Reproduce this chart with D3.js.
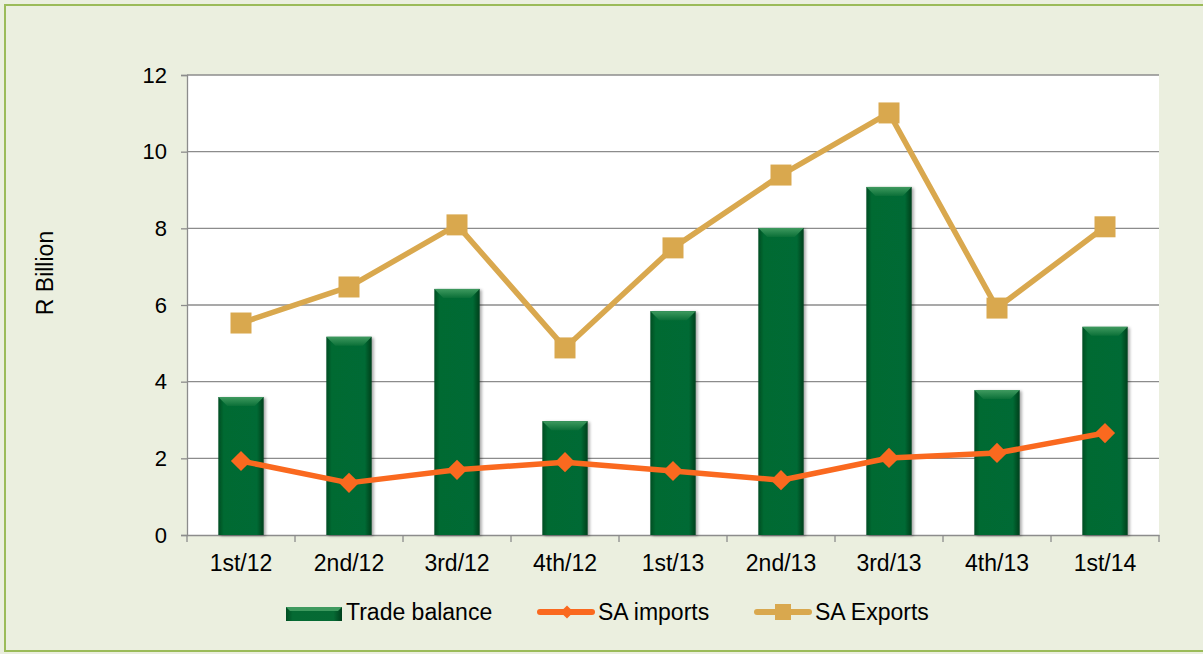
<!DOCTYPE html>
<html>
<head>
<meta charset="utf-8">
<script src="https://cdn.jsdelivr.net/npm/d3@7"></script>
<style>
  html, body { margin: 0; padding: 0; background: #ebefdf; }
  svg { display: block; font-family: "Liberation Sans", Arial, sans-serif; }
</style>
</head>
<body>
<svg id="chart" width="1203" height="654"></svg>
<script>
const quarters = ['1st/12', '2nd/12', '3rd/12', '4th/12', '1st/13', '2nd/13', '3rd/13', '4th/13', '1st/14'];
const tradeBalance = [3.6, 5.17, 6.42, 2.97, 5.84, 8.01, 9.08, 3.78, 5.43];
const saImports = [1.93, 1.36, 1.70, 1.90, 1.67, 1.43, 2.01, 2.14, 2.66];
const saExports = [5.53, 6.47, 8.09, 4.88, 7.49, 9.39, 11.01, 5.92, 8.04];
const yTicks = [0, 2, 4, 6, 8, 10, 12];

const svg = d3.select('#chart');
const defs = svg.append('defs');
const fontSize = 23;

// frame
svg.append('rect')
  .attr('x', 5).attr('y', 5)
  .attr('width', 1220).attr('height', 646)
  .attr('fill', '#ebefdf')
  .attr('stroke', '#9bbb59')
  .attr('stroke-width', 2);

const plot = {left: 187, right: 1159, top: 75, bottom: 535};

const x = d3.scaleBand()
  .domain(quarters)
  .range([plot.left, plot.right])
  .paddingInner(0.58)
  .paddingOuter(0.29);

const xPoint = d3.scalePoint().domain(quarters).range([plot.left, plot.right]).padding(0.5);

const y = d3.scaleLinear().domain([0, 12]).range([plot.bottom, plot.top]);

// bar gradients
const grad = defs.append('linearGradient').attr('id', 'barGrad')
  .attr('x1', '0%').attr('x2', '100%').attr('y1', '0%').attr('y2', '0%');
grad.append('stop').attr('offset', '0%').attr('stop-color', '#004d22');
grad.append('stop').attr('offset', '12%').attr('stop-color', '#056a33');
grad.append('stop').attr('offset', '85%').attr('stop-color', '#066a34');
grad.append('stop').attr('offset', '100%').attr('stop-color', '#003f1c');

const topGrad = defs.append('linearGradient').attr('id', 'topGrad')
  .attr('x1', '0%').attr('x2', '0%').attr('y1', '0%').attr('y2', '100%');
topGrad.append('stop').attr('offset', '0%').attr('stop-color', '#3f9a5f');
topGrad.append('stop').attr('offset', '100%').attr('stop-color', '#0b7038');

const shadow = defs.append('filter').attr('id', 'shadow')
  .attr('x', '-20%').attr('y', '-10%').attr('width', '150%').attr('height', '130%');
shadow.append('feDropShadow').attr('dx', 2).attr('dy', 1).attr('stdDeviation', 1.5)
  .attr('flood-color', '#000').attr('flood-opacity', 0.35);

// plot background
svg.append('rect')
  .attr('x', plot.left).attr('y', plot.top)
  .attr('width', plot.right - plot.left).attr('height', plot.bottom - plot.top)
  .attr('fill', '#ffffff');

// gridlines
svg.append('g')
  .selectAll('line')
  .data(yTicks.filter(t => t > 0))
  .enter()
  .append('line')
  .attr('x1', plot.left).attr('x2', plot.right)
  .attr('y1', d => y(d)).attr('y2', d => y(d))
  .attr('stroke', '#8c8c8c').attr('stroke-width', 1.3);

// y axis
const yAxis = svg.append('g')
  .attr('transform', `translate(${plot.left},0)`)
  .call(d3.axisLeft(y).tickValues(yTicks).tickSize(6).tickPadding(14));
yAxis.select('.domain').attr('stroke', '#8c8c8c').attr('stroke-width', 1.3);
yAxis.selectAll('.tick line').attr('stroke', '#8c8c8c').attr('stroke-width', 1.3);
yAxis.selectAll('.tick text').attr('font-size', 22).attr('fill', '#000')
  .attr('font-family', '"Liberation Sans", Arial, sans-serif');

// x axis
const xAxis = svg.append('g')
  .attr('transform', `translate(0,${plot.bottom})`)
  .call(d3.axisBottom(x).tickSize(0).tickPadding(20));
xAxis.select('.domain').attr('stroke', '#8c8c8c').attr('stroke-width', 1.3);
xAxis.selectAll('.tick text').attr('font-size', fontSize).attr('fill', '#000')
  .attr('font-family', '"Liberation Sans", Arial, sans-serif');
// category boundary ticks
const step = x.step();
xAxis.append('g')
  .selectAll('line')
  .data(d3.range(quarters.length + 1))
  .enter()
  .append('line')
  .attr('x1', i => plot.left + i * step).attr('x2', i => plot.left + i * step)
  .attr('y1', 0).attr('y2', 7)
  .attr('stroke', '#8c8c8c').attr('stroke-width', 1.3);

// y label
svg.append('text')
  .attr('transform', 'translate(53,273) rotate(-90)')
  .attr('text-anchor', 'middle')
  .attr('font-size', fontSize)
  .attr('fill', '#000')
  .text('R Billion');

// bars
const bars = svg.append('g')
  .selectAll('g')
  .data(quarters.map((q, i) => ({q, v: tradeBalance[i]})))
  .enter()
  .append('g');

bars.append('rect')
  .attr('x', d => x(d.q))
  .attr('y', d => y(d.v))
  .attr('width', x.bandwidth())
  .attr('height', d => y(0) - y(d.v))
  .attr('fill', 'url(#barGrad)')
  .attr('filter', 'url(#shadow)');

// bevel on bar top
const bev = 9;
bars.append('path')
  .attr('d', d => {
    const x0 = x(d.q), x1 = x0 + x.bandwidth(), y0 = y(d.v);
    return `M${x0},${y0}L${x1},${y0}L${x1 - bev},${y0 + bev}L${x0 + bev},${y0 + bev}Z`;
  })
  .attr('fill', 'url(#topGrad)');

// lines
const line = d3.line()
  .x(d => xPoint(d.q))
  .y(d => y(d.v));

const exportsData = quarters.map((q, i) => ({q, v: saExports[i]}));
const importsData = quarters.map((q, i) => ({q, v: saImports[i]}));

const exportColor = '#d9a84e';
const importColor = '#fa691f';

svg.append('path')
  .datum(exportsData)
  .attr('d', line)
  .attr('fill', 'none')
  .attr('stroke', exportColor)
  .attr('stroke-width', 5.5)
  .attr('stroke-linejoin', 'round');

svg.append('g')
  .selectAll('rect')
  .data(exportsData)
  .enter()
  .append('rect')
  .attr('x', d => xPoint(d.q) - 10.5)
  .attr('y', d => y(d.v) - 10.5)
  .attr('width', 21).attr('height', 21)
  .attr('fill', exportColor);

svg.append('path')
  .datum(importsData)
  .attr('d', line)
  .attr('fill', 'none')
  .attr('stroke', importColor)
  .attr('stroke-width', 5.5)
  .attr('stroke-linejoin', 'round');

const diamond = d3.symbol().type(d3.symbolDiamond2).size(260);
svg.append('g')
  .selectAll('path')
  .data(importsData)
  .enter()
  .append('path')
  .attr('transform', d => `translate(${xPoint(d.q)},${y(d.v)})`)
  .attr('d', diamond)
  .attr('fill', importColor);

// legend
const legend = svg.append('g').attr('transform', 'translate(0,612)');

legend.append('rect')
  .attr('x', 286).attr('y', -5).attr('width', 56).attr('height', 14)
  .attr('fill', 'url(#barGrad)');
legend.append('path')
  .attr('d', 'M286,-5L342,-5L338,-1L290,-1Z')
  .attr('fill', '#3f9a5f');
legend.append('text').attr('x', 346).attr('y', 8).attr('font-size', fontSize).attr('fill', '#000')
  .text('Trade balance');

legend.append('line')
  .attr('x1', 540).attr('x2', 592).attr('y1', 0).attr('y2', 0)
  .attr('stroke', importColor).attr('stroke-width', 6).attr('stroke-linecap', 'round');
legend.append('path')
  .attr('transform', 'translate(567,0)')
  .attr('d', d3.symbol().type(d3.symbolDiamond2).size(110))
  .attr('fill', importColor);
legend.append('text').attr('x', 598).attr('y', 8).attr('font-size', fontSize).attr('fill', '#000')
  .text('SA imports');

legend.append('line')
  .attr('x1', 757).attr('x2', 809).attr('y1', 0).attr('y2', 0)
  .attr('stroke', exportColor).attr('stroke-width', 6).attr('stroke-linecap', 'round');
legend.append('rect')
  .attr('x', 775).attr('y', -8).attr('width', 16).attr('height', 16)
  .attr('fill', exportColor);
legend.append('text').attr('x', 815).attr('y', 8).attr('font-size', fontSize).attr('fill', '#000')
  .text('SA Exports');
</script>
</body>
</html>
